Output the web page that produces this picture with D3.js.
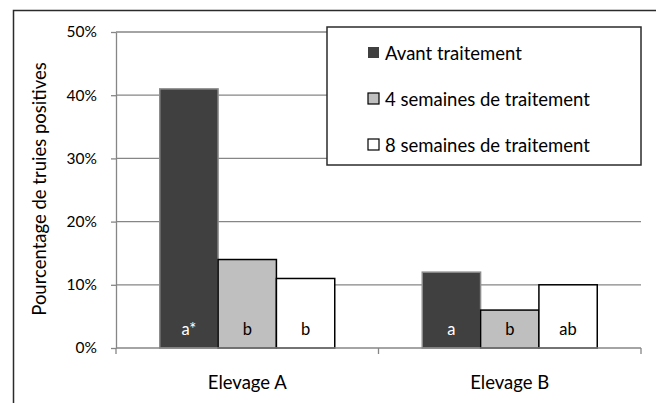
<!DOCTYPE html>
<html>
<head>
<meta charset="utf-8">
<script src="https://cdn.jsdelivr.net/npm/d3@7"></script>
<style>
  body { margin: 0; background: #fff; }
  text { font-family: Lato, "Open Sans", sans-serif; }
</style>
</head>
<body>
<div id="vis"></div>
<script>
// data
const farms = ['Elevage A', 'Elevage B']
const series = ['Avant traitement', '4 semaines de traitement', '8 semaines de traitement']
const values = [
  [41, 14, 11],  // Elevage A
  [12, 6, 10]    // Elevage B
]
const letters = [
  ['a*', 'b', 'b'],
  ['a', 'b', 'ab']
]
const yTicks = [0, 10, 20, 30, 40, 50]

const fills = ['#404040', '#bfbfbf', '#ffffff']
const strokes = ['#8c8c8c', '#000000', '#000000']
const textColors = ['#ffffff', '#000000', '#000000']

const margin = { left: 116, top: 32, right: 15, bottom: 55 }
const W = 656, H = 403
const plotW = 641 - margin.left
const plotH = 348 - margin.top

const svg = d3.select('#vis').append('svg')
  .attr('width', W)
  .attr('height', H)

// outer frame
svg.append('rect')
  .attr('x', 13.5).attr('y', 10.5)
  .attr('width', 700).attr('height', 500)
  .attr('fill', 'none')
  .attr('stroke', '#2b2b2b')
  .attr('stroke-width', 1.5)

const g = svg.append('g').attr('transform', `translate(${margin.left},${margin.top})`)

const y = d3.scaleLinear().domain([0, 50]).range([plotH, 0])
const x0 = d3.scaleBand().domain(farms).range([0, plotW])
const x1 = d3.scaleBand().domain(series).range([0, 175]).paddingInner(0)

// gridlines
g.selectAll('.grid')
  .data(yTicks.filter(d => d > 0))
  .enter().append('line')
  .attr('class', 'grid')
  .attr('x1', 0).attr('x2', plotW)
  .attr('y1', d => y(d)).attr('y2', d => y(d))
  .attr('stroke', '#868686')
  .attr('stroke-width', 1.3)

// y axis
const yAxis = g.append('g')
  .call(d3.axisLeft(y).tickValues(yTicks).tickFormat(d => d + '%').tickSize(5).tickSizeOuter(0))
yAxis.select('.domain').attr('stroke', '#868686').attr('stroke-width', 1.3)
yAxis.selectAll('.tick line').attr('stroke', '#868686').attr('stroke-width', 1.3)
yAxis.selectAll('.tick text')
  .attr('x', -19)
  .attr('fill', '#000')
  .style('font-size', '15.5px')
  .style('font-family', 'Lato, sans-serif')

// bars
const groups = g.selectAll('.farm')
  .data(farms)
  .enter().append('g')
  .attr('class', 'farm')
  .attr('transform', d => `translate(${x0(d) + (x0.bandwidth() - 175) / 2},0)`)

groups.selectAll('rect')
  .data((d, i) => values[i].map((v, j) => ({ v, j, lab: letters[i][j] })))
  .enter().append('rect')
  .attr('x', d => x1(series[d.j]))
  .attr('y', d => y(d.v))
  .attr('width', x1.bandwidth())
  .attr('height', d => plotH - y(d.v))
  .attr('fill', d => fills[d.j])
  .attr('stroke', d => strokes[d.j])
  .attr('stroke-width', 1.5)

groups.selectAll('.lab')
  .data((d, i) => values[i].map((v, j) => ({ v, j, lab: letters[i][j] })))
  .enter().append('text')
  .attr('class', 'lab')
  .attr('x', d => x1(series[d.j]) + x1.bandwidth() / 2)
  .attr('y', plotH - 13)
  .attr('text-anchor', 'middle')
  .attr('fill', d => textColors[d.j])
  .style('font-size', '16.5px')
  .text(d => d.lab)

// x axis
const xAxis = g.append('g')
  .attr('transform', `translate(0,${plotH})`)
  .call(d3.axisBottom(x0).tickSize(0))
xAxis.select('.domain').remove()
xAxis.append('line')
  .attr('x1', 0).attr('x2', plotW)
  .attr('stroke', '#868686').attr('stroke-width', 1.5)
xAxis.selectAll('.sep')
  .data([0, plotW / 2, plotW])
  .enter().append('line')
  .attr('class', 'sep')
  .attr('x1', d => d).attr('x2', d => d)
  .attr('y1', 0).attr('y2', 6)
  .attr('stroke', '#868686').attr('stroke-width', 1.3)
xAxis.selectAll('.tick text')
  .attr('y', 28)
  .attr('fill', '#000')
  .style('font-size', '18.5px')
  .style('font-family', 'Lato, sans-serif')

// y title
svg.append('text')
  .attr('transform', 'translate(46,189) rotate(-90)')
  .attr('text-anchor', 'middle')
  .style('font-size', '18.5px')
  .text('Pourcentage de truies positives')

// legend
const legend = svg.append('g').attr('transform', 'translate(327,27)')
legend.append('rect')
  .attr('width', 314).attr('height', 138)
  .attr('fill', '#fff')
  .attr('stroke', '#2b2b2b')
  .attr('stroke-width', 1.5)

const items = legend.selectAll('.item')
  .data(series)
  .enter().append('g')
  .attr('class', 'item')
  .attr('transform', (d, i) => `translate(41,${26 + i * 46})`)
items.append('rect')
  .attr('x', 0).attr('y', -6)
  .attr('width', 11).attr('height', 11)
  .attr('fill', (d, i) => fills[i])
  .attr('stroke', (d, i) => i === 0 ? 'none' : '#000')
  .attr('stroke-width', 1.2)
items.append('text')
  .attr('x', 17).attr('y', 6.5)
  .style('font-size', '18.5px')
  .text(d => d)
</script>
</body>
</html>
